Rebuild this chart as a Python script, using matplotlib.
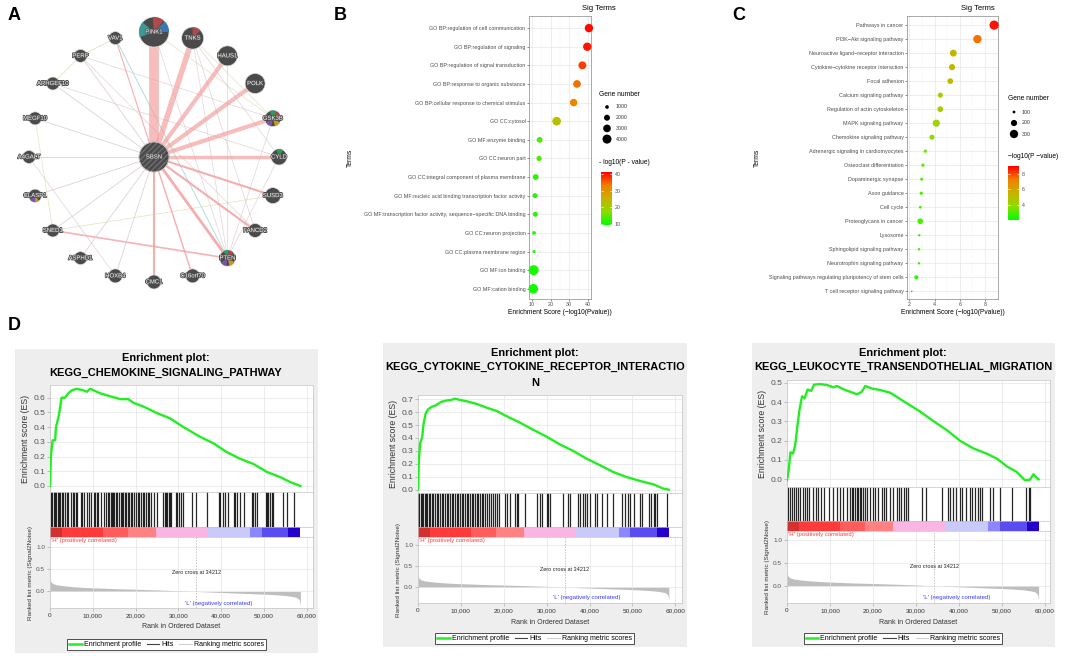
import numpy as np
import matplotlib
matplotlib.use('Agg')
import matplotlib.pyplot as plt
from matplotlib.patches import Circle, Wedge
from matplotlib.colors import LinearSegmentedColormap
from matplotlib.lines import Line2D
import matplotlib.patheffects as pe

plt.rcParams['font.family'] = ['Liberation Sans', 'DejaVu Sans']

# ---------------- data ----------------
# panel A: gene network (clockwise from top)
genes = ['PINK1', 'TNKS', 'HAUS1', 'POLK', 'GSK3B', 'CYLD', 'SUSD3', 'FANCD2', 'PTEN',
         'C16orf70', 'CMC1', 'HOXB4', 'ASPHD1', 'SNED1', 'CLASP1', 'A4GALT', 'MEGF10',
         'ARHGEF10', 'PERP', 'VAV1']
node_r = [15, 11, 10, 10, 8, 8, 8, 7, 8, 7, 7, 7, 6.5, 6.5, 6.5, 6.5, 6.5, 6.5, 6.5, 6.5]
sbsn_w = [7, 4, 3, 3, 3, 2.5, 1.5, 1.5, 2, 1, 1.5, 0.6, 0.6, 0.6, 0.6, 0.6, 0.6, 0.6, 0.6, 0.8]
sbsn_kind = ['p'] * 11 + ['m'] * 8 + ['p']
other_edges = [('SNED1', 'PTEN', 1.2, 'p'), ('VAV1', 'PTEN', 0.6, 't'), ('PERP', 'VAV1', 0.6, 'o'),
               ('PERP', 'ARHGEF10', 0.6, 'o'), ('MEGF10', 'SNED1', 0.5, 'o'), ('SNED1', 'SUSD3', 0.5, 'o'),
               ('PERP', 'GSK3B', 0.5, 'm'), ('ARHGEF10', 'CYLD', 0.5, 'm'), ('A4GALT', 'HOXB4', 0.5, 'm'),
               ('PINK1', 'GSK3B', 0.5, 'o'), ('TNKS', 'GSK3B', 0.5, 'o'), ('TNKS', 'CYLD', 0.5, 'm'),
               ('TNKS', 'PTEN', 0.5, 'm'), ('TNKS', 'FANCD2', 0.5, 'm'), ('HAUS1', 'PTEN', 0.5, 'm'),
               ('PINK1', 'PTEN', 0.5, 'm'), ('GSK3B', 'PTEN', 0.5, 'm'), ('CYLD', 'PTEN', 0.5, 'm'),
               ('PERP', 'FANCD2', 0.5, 'm')]
edge_col = {'p': '#F4A0A0', 'm': '#D9C8D0', 'o': '#D8DCB0', 't': '#8FD0D0'}
# (gene, visual angle start, end, colour)
pies = [('PINK1', 140, 200, '#3A9A94'), ('PINK1', 50, 95, '#B04A4A'), ('PINK1', 0, 45, '#3A78B0'),
        ('TNKS', 45, 90, '#B04A4A'), ('GSK3B', 60, 115, '#2E9A5A'), ('GSK3B', 30, 60, '#B04A4A'),
        ('GSK3B', 210, 260, '#7A55B0'), ('GSK3B', 285, 330, '#C89A20'),
        ('PTEN', 80, 120, '#2E9A5A'), ('PTEN', 40, 80, '#B04A4A'), ('PTEN', 215, 260, '#7A55B0'),
        ('PTEN', 285, 330, '#C89A20'), ('CLASP1', 220, 270, '#7A55B0'), ('CLASP1', 270, 305, '#C89A20'),
        ('CYLD', 60, 110, '#2E9A5A')]

# panel B: GO terms
b_terms = ['GO BP:regulation of cell communication', 'GO BP:regulation of signaling',
           'GO BP:regulation of signal transduction', 'GO BP:response to organic substance',
           'GO BP:cellular response to chemical stimulus', 'GO CC:cytosol', 'GO MF:enzyme binding',
           'GO CC:neuron part', 'GO CC:integral component of plasma membrane',
           'GO MF:nucleic acid binding transcription factor activity',
           'GO MF:transcription factor activity, sequence\u2212specific DNA binding',
           'GO CC:neuron projection', 'GO CC:plasma membrane region', 'GO MF:ion binding',
           'GO MF:cation binding']
b_score = [40.5, 39.6, 37.0, 34.1, 32.3, 23.2, 14.1, 13.8, 12.0, 11.6, 11.8, 11.1, 11.1, 10.9, 10.7]
b_genes = [3500, 3500, 3200, 3000, 2900, 3700, 1900, 1600, 1900, 1500, 1500, 1000, 800, 4800, 4500]

# panel C: KEGG pathways
c_terms = ['Pathways in cancer', 'PI3K\u2212Akt signaling pathway', 'Neuroactive ligand\u2212receptor interaction',
           'Cytokine\u2212cytokine receptor interaction', 'Focal adhesion', 'Calcium signaling pathway',
           'Regulation of actin cytoskeleton', 'MAPK signaling pathway', 'Chemokine signaling pathway',
           'Adrenergic signaling in cardiomyocytes', 'Osteoclast differentiation', 'Dopaminergic synapse',
           'Axon guidance', 'Cell cycle', 'Proteoglycans in cancer', 'Lysosome',
           'Sphingolipid signaling pathway', 'Neurotrophin signaling pathway',
           'Signaling pathways regulating pluripotency of stem cells', 'T cell receptor signaling pathway']
c_score = [8.72, 7.40, 5.49, 5.39, 5.25, 4.46, 4.46, 4.14, 3.80, 3.27, 3.08, 2.98, 2.95, 2.87, 2.87,
           2.79, 2.77, 2.77, 2.56, 2.19]
c_genes = [350, 300, 230, 200, 180, 160, 180, 240, 160, 110, 110, 105, 110, 100, 180, 95, 95, 95, 130, 85]

# panel D: GSEA
n_genes = 58500
zero_cross = 34212
es1_rank = [0, 200, 600, 1200, 1400, 2000, 2300, 2700, 3500, 4300, 5100, 6200, 7800, 8600, 9400, 11700,
            14000, 16400, 18300, 19500, 21800, 25000, 28000, 31200, 35000, 38200, 41300, 44400, 47500,
            50700, 53800, 56100, 58500]
es1_val = [0, 0.2, 0.31, 0.31, 0.40, 0.47, 0.52, 0.60, 0.60, 0.63, 0.65, 0.66, 0.65, 0.64, 0.66, 0.63,
           0.61, 0.59, 0.59, 0.565, 0.54, 0.495, 0.46, 0.40, 0.335, 0.29, 0.23, 0.185, 0.15, 0.095, 0.06,
           0.027, 0.0]
es2_rank = [0, 200, 500, 1000, 1300, 1800, 2300, 3100, 4300, 5400, 6600, 7800, 8600, 9700, 11300, 13600,
            16000, 18300, 20600, 23700, 26800, 30000, 33100, 36200, 39300, 42400, 45500, 48600, 51800,
            54900, 57200, 58500]
es2_val = [0, 0.23, 0.36, 0.41, 0.51, 0.59, 0.62, 0.64, 0.655, 0.68, 0.69, 0.695, 0.705, 0.695, 0.685,
           0.665, 0.635, 0.61, 0.57, 0.52, 0.465, 0.41, 0.35, 0.30, 0.24, 0.19, 0.137, 0.098, 0.067,
           0.041, 0.008, 0.0]
es3_rank = [0, 400, 800, 1400, 1900, 2500, 2900, 3500, 4100, 4800, 5600, 6300, 7700, 9300, 10800, 11600,
            13200, 14700, 16300, 17400, 18200, 19700, 21700, 24000, 25500, 27900, 31000, 34100, 37200,
            40200, 43300, 46400, 48800, 51100, 53400, 55300, 56500, 57300, 58000, 58500]
es3_val = [-0.005, 0.047, 0.14, 0.133, 0.176, 0.29, 0.36, 0.43, 0.42, 0.465, 0.457, 0.49, 0.493, 0.488,
           0.476, 0.483, 0.465, 0.453, 0.44, 0.453, 0.483, 0.47, 0.462, 0.448, 0.427, 0.393, 0.35, 0.30,
           0.254, 0.20, 0.16, 0.133, 0.107, 0.067, 0.038, -0.005, -0.002, 0.026, 0.009, 0.0]
hits1 = [230, 540, 850, 1160, 1470, 1780, 2090, 2400, 2710, 3090, 3480, 3870, 4250, 4870, 5260, 5640,
         6030, 6420, 7190, 7580, 7960, 8740, 9120, 9660, 10280, 10590, 10900, 11210, 11830, 12600, 13140,
         13450, 13680, 14150, 14460, 14690, 15070, 15380, 15690, 16230, 16540, 16850, 17160, 17470, 17780,
         18170, 18550, 18860, 19090, 19560, 20100, 20490, 20870, 21260, 21640, 22030, 22420, 22800, 23190,
         23580, 24350, 24970, 26510, 26820, 27130, 27440, 27750, 28060, 28370, 29370, 29760, 30150, 30530,
         31150, 33240, 34010, 36720, 39420, 39810, 40430, 40970, 41510, 42900, 43290, 43680, 44290, 45220,
         47150, 47540, 47930, 48310, 50480, 50790, 51020, 51410, 51790, 52180, 54500, 55420, 56970]
hits2 = [100, 310, 620, 930, 1250, 1560, 1870, 2180, 2490, 2800, 3190, 3580, 3970, 4360, 4750, 5140,
         5520, 5910, 6300, 6690, 7080, 7470, 7860, 8250, 8640, 9030, 9410, 9800, 10190, 10580, 10970,
         11360, 11750, 12140, 12530, 12920, 13300, 13690, 14080, 14470, 14860, 15250, 15720, 16180, 16650,
         17120, 17580, 17970, 18440, 18980, 20310, 20850, 21470, 22640, 23030, 23420, 24970, 27700, 28480,
         28860, 30030, 30420, 30810, 33770, 35090, 35480, 37420, 37810, 38590, 38980, 39370, 40150, 41310,
         41700, 42870, 44040, 45590, 47540, 48310, 49090, 49480, 50260, 51820, 52200, 53760, 54300, 54930,
         55320, 55710, 58040]
hits3 = [300, 700, 1100, 1600, 2200, 2600, 3000, 3800, 4200, 4600, 5200, 6000, 6700, 7300, 8000, 8600,
         9800, 10800, 11700, 12300, 13100, 13900, 14600, 15000, 15400, 15800, 16200, 16600, 17000, 17300,
         17700, 18100, 18700, 19300, 20000, 20400, 21200, 22000, 22500, 23100, 23900, 24700, 25500, 26100,
         26600, 27200, 27600, 28200, 31300, 32400, 36100, 37500, 37800, 38500, 39400, 40200, 40800, 41600,
         42500, 43100, 43700, 44400, 44800, 45400, 47100, 47900, 49600, 52200, 55500, 56300, 56600]
metric_rank = [0, 200, 600, 1500, 3000, 5000, 8000, 12000, 16000, 20000, 25000, 30000, 34212, 38000,
               42000, 46000, 50000, 53000, 55000, 56500, 57500, 58000, 58300, 58500]
metric_val = [0.28, 0.22, 0.18, 0.15, 0.13, 0.11, 0.09, 0.075, 0.06, 0.05, 0.035, 0.018, 0.0, -0.015,
              -0.03, -0.045, -0.06, -0.075, -0.09, -0.11, -0.13, -0.16, -0.2, -0.32]
bar_edges = [0, 2700, 12400, 18200, 24700, 36700, 46800, 49500, 55700, 58500]
bar_colors = ['#D43030', '#FF3A3A', '#FF5C5C', '#FF8282', '#F9B6E2', '#CACAFA', '#8A86FF', '#5A4CF0', '#2400CC']

# ---------------- helpers ----------------
W, H = 1065, 656
fig = plt.figure(figsize=(W / 100, H / 100), dpi=100)


def px_axes(x0, y0, x1, y1):
    return fig.add_axes([x0 / W, 1 - y1 / H, (x1 - x0) / W, (y1 - y0) / H])


def ftext(x, y, s, **kw):
    fig.text(x / W, 1 - y / H, s, **kw)


cmap_sig = LinearSegmentedColormap.from_list('sig', ['#00FF00', '#8FDC00', '#C8B200', '#F08000', '#FF0000'])

# ---------------- panel A ----------------
axA = px_axes(0, 0, 320, 300)
axA.set_xlim(0, 320)
axA.set_ylim(300, 0)
axA.axis('off')
cx, cy, R = 154, 157, 125
ang = np.deg2rad(90 - 18 * np.arange(len(genes)))
pos = {g: (cx + R * np.cos(a), cy - R * np.sin(a)) for g, a in zip(genes, ang)}
for a, b, w, k in other_edges:
    axA.plot([pos[a][0], pos[b][0]], [pos[a][1], pos[b][1]], color=edge_col[k], lw=w, alpha=0.8, zorder=1)
for g, w, k in zip(genes, sbsn_w, sbsn_kind):
    axA.plot([cx, pos[g][0]], [cy, pos[g][1]], color=edge_col[k], lw=w,
             alpha=0.7 if w > 2 else 0.85, zorder=1, solid_capstyle='butt')
for g, r in zip(genes, node_r):
    axA.add_patch(Circle(pos[g], r, facecolor='#4A4A4A', edgecolor='#DDDDDD', lw=0.5, zorder=3))
for g, t1, t2, col in pies:
    r = node_r[genes.index(g)]
    axA.add_patch(Wedge(pos[g], r, -t2, -t1, facecolor=col, edgecolor='none', zorder=4))
axA.add_patch(Circle((cx, cy), 15, facecolor='#4A4A4A', edgecolor='#6E6E6E', hatch='//////', lw=0.4, zorder=3))
axA.add_patch(Circle((cx, cy), 15, facecolor='none', edgecolor='#DDDDDD', lw=0.5, zorder=4))
stroke = [pe.withStroke(linewidth=1.2, foreground='#505050')]
for g in genes + ['SBSN']:
    xy = pos.get(g, (cx, cy))
    axA.text(xy[0], xy[1], g, color='white', fontsize=4.3, ha='center', va='center', zorder=5,
             path_effects=stroke)


# ---------------- panels B and C ----------------
def dot_panel(box, terms, score, genes_n, size_f, xlim, xticks, xminor, vlim):
    ax = px_axes(*box)
    y = np.arange(len(terms))[::-1]
    ax.scatter(score, y, s=size_f(np.array(genes_n)), c=score, cmap=cmap_sig, vmin=vlim[0], vmax=vlim[1],
               edgecolors='none', zorder=3, clip_on=False)
    ax.set_yticks(y)
    ax.set_yticklabels(terms, fontsize=3.9, color='#4D4D4D')
    ax.set_xticks(xticks)
    ax.set_xticklabels([str(t) for t in xticks], fontsize=3.9, color='#4D4D4D')
    ax.set_xticks(xminor, minor=True)
    ax.set_xlim(*xlim)
    ax.set_ylim(-0.55, len(terms) - 1 + 0.65)
    ax.grid(True, which='major', color='#E8E8E8', lw=0.5)
    ax.grid(True, which='minor', axis='x', color='#F3F3F3', lw=0.35)
    ax.set_axisbelow(True)
    ax.tick_params(which='major', length=1.5, width=0.4, color='#333333', pad=1)
    ax.tick_params(which='minor', length=0)
    for s in ax.spines.values():
        s.set_color('#888888')
        s.set_linewidth(0.5)
    return ax


size_b = lambda n: 0.0117 * (n - 400)
size_c = lambda n: 0.16 * (n - 75)
vlim_b = (9.6, 41.0)
vlim_c = (2.0, 9.0)
dot_panel((529, 16, 591, 299), b_terms, b_score, b_genes, size_b, (8.4, 41.6), [10, 20, 30, 40],
          [15, 25, 35], vlim_b)
dot_panel((907, 16, 998, 299), c_terms, c_score, c_genes, size_c, (1.82, 9.03), [2, 4, 6, 8],
          [3, 5, 7], vlim_c)

for (x0, y0, x1, y1), vl, ticks in [((601, 172, 612, 225), vlim_b, [10, 20, 30, 40]),
                                    ((1008, 166, 1019, 220), vlim_c, [4, 6, 8])]:
    cax = px_axes(x0, y0, x1, y1)
    cax.imshow(np.linspace(vl[0], vl[1], 200).reshape(-1, 1), aspect='auto', cmap=cmap_sig,
               vmin=vl[0], vmax=vl[1], origin='lower', extent=[0, 1, vl[0], vl[1]])
    cax.set_xticks([])
    cax.yaxis.tick_right()
    cax.set_yticks(ticks)
    cax.set_yticklabels([str(t) for t in ticks], fontsize=3.8, color='#4D4D4D')
    cax.tick_params(length=0, pad=2)
    for t in ticks:
        cax.plot([0, 0.2], [t, t], color='white', lw=0.4)
        cax.plot([0.8, 1], [t, t], color='white', lw=0.4)
    for s in cax.spines.values():
        s.set_visible(False)


# ---------------- panel D ----------------
def gsea(bg, x0, x1, ys, title, title_x, title_ys, es_rank, es_val, es_lim, es_top, hits, rank_lim,
         xmax, leg_xy, xlab_y):
    b = px_axes(*bg)
    b.set_facecolor('#EEEEEE')
    b.set_xticks([])
    b.set_yticks([])
    for s in b.spines.values():
        s.set_visible(False)
    a1 = px_axes(x0, ys[0], x1, ys[1])
    a2 = px_axes(x0, ys[1], x1, ys[2])
    a3 = px_axes(x0, ys[2], x1, ys[3])
    xt = np.arange(0, 60001, 10000)
    for a in (a1, a2, a3):
        a.set_xlim(0, xmax)
        for s in a.spines.values():
            s.set_color('#C4C4C4')
            s.set_linewidth(0.5)
        a.tick_params(length=2, width=0.4, color='#999999', pad=1.5)
    a1.plot(es_rank, es_val, color='#22EE22', lw=1.7, zorder=3)
    a1.set_ylim(*es_lim)
    a1.set_yticks(np.round(np.arange(0, es_top + 0.01, 0.1), 1))
    a1.set_yticklabels(['%.1f' % v for v in np.arange(0, es_top + 0.01, 0.1)], fontsize=6, color='#555555')
    a1.set_xticks(xt)
    a1.set_xticklabels([])
    a1.tick_params(axis='x', length=0)
    a1.grid(True, color='#E4E4E4', lw=0.5)
    a1.set_ylabel('Enrichment score (ES)', fontsize=6.3, color='#333333', labelpad=2)

    a2.vlines(hits, 0.22, 1, color='black', lw=0.9, alpha=0.85)
    for e0, e1, col in zip(bar_edges[:-1], bar_edges[1:], bar_colors):
        a2.axvspan(e0, e1, ymin=0, ymax=0.22, color=col, lw=0)
    a2.axhline(0.22, color='#C4C4C4', lw=0.5)
    a2.set_ylim(0, 1)
    a2.set_xticks([])
    a2.set_yticks([])

    a3.fill_between(metric_rank, metric_val, 0, color='#BEBEBE', lw=0)
    a3.axvline(zero_cross, color='#AAAAAA', lw=0.5, ls=(0, (2, 2)))
    a3.set_ylim(*rank_lim)
    a3.set_yticks([0.0, 0.5, 1.0])
    a3.set_yticklabels(['0.0', '0.5', '1.0'], fontsize=4.6, color='#555555')
    a3.set_xticks(xt)
    a3.set_xticklabels(['{:,}'.format(v) for v in xt], fontsize=4.6, color='#333333')
    a3.grid(True, color='#E4E4E4', lw=0.5)
    a3.set_ylabel('Ranked list metric (Signal2Noise)', fontsize=4.6, color='#333333', labelpad=2)
    a3.text(0.005, 0.985, "'H' (positively correlated)", transform=a3.transAxes, color='#FF3A3A',
            fontsize=4.3, ha='left', va='top')
    a3.text(zero_cross, 0.43, 'Zero cross at %d' % zero_cross, fontsize=4, ha='center', va='center',
            color='#222222')
    a3.text(39400, -0.26, "'L' (negatively correlated)", fontsize=4.3, ha='center', va='center',
            color='#3A3AFF')
    for t, ty in zip(title, title_ys):
        ftext(title_x, ty, t, fontsize=7.9, fontweight='bold', ha='center', va='center')
    ftext((x0 + x1) / 2, xlab_y, 'Rank in Ordered Dataset', fontsize=5, ha='center', va='center',
          color='#333333')
    handles = [Line2D([], [], color='#22EE22', lw=1.8), Line2D([], [], color='#444444', lw=0.8),
               Line2D([], [], color='#D0D0D0', lw=0.8)]
    leg = fig.legend(handles, ['Enrichment profile', 'Hits', 'Ranking metric scores'], loc='center',
                     bbox_to_anchor=(leg_xy[0] / W, 1 - leg_xy[1] / H), ncol=3, fontsize=5,
                     fancybox=False, edgecolor='#333333', handlelength=1.8, handletextpad=0.3,
                     columnspacing=0.8, borderpad=0.25, framealpha=1)
    leg.get_frame().set_linewidth(0.6)


gsea((15, 349, 318, 653), 50, 313, (385, 492, 537, 608),
     ['Enrichment plot:', 'KEGG_CHEMOKINE_SIGNALING_PATHWAY'], 166, [358, 373],
     es1_rank, es1_val, (-0.041, 0.686), 0.6, hits1, (-0.37, 1.22), 61450, (166.5, 644.5), 627)
gsea((383, 343, 687, 647), 418, 682, (395, 493, 537, 603),
     ['Enrichment plot:', 'KEGG_CYTOKINE_CYTOKINE_RECEPTOR_INTERACTIO', 'N'], 535, [353, 367, 383],
     es2_rank, es2_val, (-0.026, 0.733), 0.7, hits2, (-0.38, 1.2), 61570, (534.5, 638.5), 622)
gsea((752, 343, 1055, 647), 787, 1050, (380, 487, 531, 603),
     ['Enrichment plot:', 'KEGG_LEUKOCYTE_TRANSENDOTHELIAL_MIGRATION'], 903, [353, 367],
     es3_rank, es3_val, (-0.04, 0.514), 0.5, hits3, (-0.377, 1.2), 61150, (903, 638.5), 622)

# ---------------- overlay: legends, labels, letters ----------------
ov = px_axes(0, 0, W, H)
ov.set_xlim(0, W)
ov.set_ylim(H, 0)
ov.axis('off')
ov.patch.set_alpha(0)

for lab, x, y in [('A', 8, 16), ('B', 334, 16), ('C', 732, 16), ('D', 8, 326)]:
    ov.text(x, y, lab, fontsize=13, fontweight='bold', ha='left', va='center')

for cx0, ttl_x, ttl_y, xl_x, tr_x in [(599, 599, 9, 560, 350), (1008, 978, 8, 953, 757)]:
    ov.text(ttl_x, ttl_y, 'Sig Terms', fontsize=5.5, ha='center', va='center')
    ov.text(xl_x, 313, 'Enrichment Score (\u2212log10(Pvalue))', fontsize=4.8, ha='center', va='center')
    ov.text(tr_x, 158, 'Terms', fontsize=4.8, ha='center', va='center', rotation=90)

gn_b = [1000, 2000, 3000, 4000]
ov.text(599, 94, 'Gene number', fontsize=4.8, ha='left', va='center')
for i, n in enumerate(gn_b):
    yy = 107 + 10.7 * i
    ov.scatter([607], [yy], s=size_b(n), color='black', edgecolors='none')
    ov.text(616, yy, str(n), fontsize=3.8, ha='left', va='center', color='#333333')
ov.text(599, 163, '- log10(P - value)', fontsize=4.8, ha='left', va='center')

gn_c = [100, 200, 300]
ov.text(1008, 99, 'Gene number', fontsize=4.8, ha='left', va='center')
for i, n in enumerate(gn_c):
    yy = 112 + 11 * i
    ov.scatter([1014], [yy], s=size_c(n), color='black', edgecolors='none')
    ov.text(1022, yy, str(n), fontsize=3.8, ha='left', va='center', color='#333333')
ov.text(1008, 157, '\u2212log10(P \u2212value)', fontsize=4.8, ha='left', va='center')

fig.savefig('out.png', dpi=100)
